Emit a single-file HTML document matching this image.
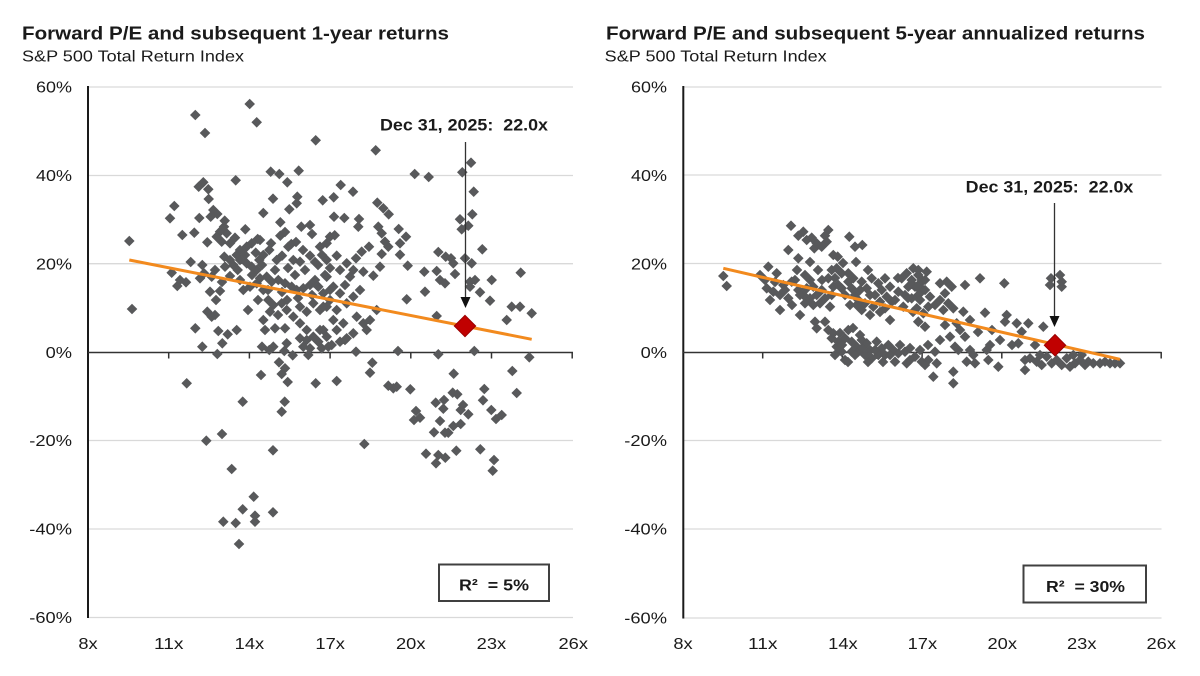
<!DOCTYPE html>
<html><head><meta charset="utf-8">
<style>
html,body{margin:0;padding:0;background:#fff;}
svg{display:block;}
text{font-family:"Liberation Sans",Arial,sans-serif;fill:#1a1a1a;}
.pre{white-space:pre;}
</style></head><body>
<svg width="1200" height="676" viewBox="0 0 1200 676" xmlns="http://www.w3.org/2000/svg">
<rect width="1200" height="676" fill="#fff"/>

<!-- ===== LEFT CHART ===== -->
<text x="22" y="39.5" font-size="18.5" font-weight="bold" textLength="427" lengthAdjust="spacingAndGlyphs">Forward P/E and subsequent 1-year returns</text>
<text x="22" y="61.5" font-size="16" textLength="222" lengthAdjust="spacingAndGlyphs">S&amp;P 500 Total Return Index</text>

<g stroke="#d9d9d9" stroke-width="1.3">
<line x1="88" y1="87" x2="573" y2="87"/>
<line x1="88" y1="175.5" x2="573" y2="175.5"/>
<line x1="88" y1="263.7" x2="573" y2="263.7"/>
<line x1="88" y1="440.5" x2="573" y2="440.5"/>
<line x1="88" y1="529" x2="573" y2="529"/>
<line x1="88" y1="617.5" x2="573" y2="617.5"/>
</g>
<line x1="88" y1="86" x2="88" y2="618" stroke="#1a1a1a" stroke-width="2"/>
<line x1="88" y1="352.5" x2="573" y2="352.5" stroke="#333" stroke-width="1.6"/>
<g stroke="#333" stroke-width="1.5">
<line x1="168.7" y1="352" x2="168.7" y2="358.5"/>
<line x1="249.4" y1="352" x2="249.4" y2="358.5"/>
<line x1="330.1" y1="352" x2="330.1" y2="358.5"/>
<line x1="410.8" y1="352" x2="410.8" y2="358.5"/>
<line x1="491.5" y1="352" x2="491.5" y2="358.5"/>
<line x1="572.2" y1="352" x2="572.2" y2="358.5"/>
</g>

<g font-size="16">
<text x="36" y="92.7" textLength="36" lengthAdjust="spacingAndGlyphs">60%</text>
<text x="36" y="181.2" textLength="36" lengthAdjust="spacingAndGlyphs">40%</text>
<text x="36" y="269.4" textLength="36" lengthAdjust="spacingAndGlyphs">20%</text>
<text x="45.6" y="358.2" textLength="26.4" lengthAdjust="spacingAndGlyphs">0%</text>
<text x="29.3" y="446.2" textLength="42.7" lengthAdjust="spacingAndGlyphs">-20%</text>
<text x="29.3" y="534.7" textLength="42.7" lengthAdjust="spacingAndGlyphs">-40%</text>
<text x="29.3" y="623.2" textLength="42.7" lengthAdjust="spacingAndGlyphs">-60%</text>

<text x="78.4" y="649" textLength="19.3" lengthAdjust="spacingAndGlyphs">8x</text>
<text x="154" y="649" textLength="29.5" lengthAdjust="spacingAndGlyphs">11x</text>
<text x="234.7" y="649" textLength="29.5" lengthAdjust="spacingAndGlyphs">14x</text>
<text x="315.4" y="649" textLength="29.5" lengthAdjust="spacingAndGlyphs">17x</text>
<text x="396" y="649" textLength="29.5" lengthAdjust="spacingAndGlyphs">20x</text>
<text x="476.7" y="649" textLength="29.5" lengthAdjust="spacingAndGlyphs">23x</text>
<text x="558.5" y="649" textLength="29.5" lengthAdjust="spacingAndGlyphs">26x</text>
</g>

<g fill="#58595b" stroke="#58595b" stroke-width="0.7">
<path d="M249.7 104m0-4.8l4.8 4.8-4.8 4.8-4.8-4.8zM195.3 115m0-4.8l4.8 4.8-4.8 4.8-4.8-4.8zM256.7 122.3m0-4.8l4.8 4.8-4.8 4.8-4.8-4.8zM205 133m0-4.8l4.8 4.8-4.8 4.8-4.8-4.8zM315.7 140.3m0-4.8l4.8 4.8-4.8 4.8-4.8-4.8zM270.7 171.7m0-4.8l4.8 4.8-4.8 4.8-4.8-4.8zM279.3 174m0-4.8l4.8 4.8-4.8 4.8-4.8-4.8zM298.7 170.7m0-4.8l4.8 4.8-4.8 4.8-4.8-4.8zM287.3 182.3m0-4.8l4.8 4.8-4.8 4.8-4.8-4.8zM235.7 180.3m0-4.8l4.8 4.8-4.8 4.8-4.8-4.8zM203.3 182.3m0-4.8l4.8 4.8-4.8 4.8-4.8-4.8zM198.7 186.7m0-4.8l4.8 4.8-4.8 4.8-4.8-4.8zM208.3 189.3m0-4.8l4.8 4.8-4.8 4.8-4.8-4.8zM208.7 199m0-4.8l4.8 4.8-4.8 4.8-4.8-4.8zM174.3 206m0-4.8l4.8 4.8-4.8 4.8-4.8-4.8zM170 218.3m0-4.8l4.8 4.8-4.8 4.8-4.8-4.8zM199.3 218m0-4.8l4.8 4.8-4.8 4.8-4.8-4.8zM213.3 210m0-4.8l4.8 4.8-4.8 4.8-4.8-4.8zM210.7 216.7m0-4.8l4.8 4.8-4.8 4.8-4.8-4.8zM217.3 214m0-4.8l4.8 4.8-4.8 4.8-4.8-4.8zM273 198.7m0-4.8l4.8 4.8-4.8 4.8-4.8-4.8zM297.3 196.7m0-4.8l4.8 4.8-4.8 4.8-4.8-4.8zM296.7 203.3m0-4.8l4.8 4.8-4.8 4.8-4.8-4.8zM289.3 209.3m0-4.8l4.8 4.8-4.8 4.8-4.8-4.8zM322.7 200.3m0-4.8l4.8 4.8-4.8 4.8-4.8-4.8zM263.3 213m0-4.8l4.8 4.8-4.8 4.8-4.8-4.8zM280.3 222.3m0-4.8l4.8 4.8-4.8 4.8-4.8-4.8zM224.7 220.7m0-4.8l4.8 4.8-4.8 4.8-4.8-4.8zM224 226.7m0-4.8l4.8 4.8-4.8 4.8-4.8-4.8zM220 231.7m0-4.8l4.8 4.8-4.8 4.8-4.8-4.8zM301.3 226.7m0-4.8l4.8 4.8-4.8 4.8-4.8-4.8zM310 225m0-4.8l4.8 4.8-4.8 4.8-4.8-4.8zM312 234m0-4.8l4.8 4.8-4.8 4.8-4.8-4.8zM182.3 235m0-4.8l4.8 4.8-4.8 4.8-4.8-4.8zM194.3 232.7m0-4.8l4.8 4.8-4.8 4.8-4.8-4.8zM129.3 241m0-4.8l4.8 4.8-4.8 4.8-4.8-4.8zM207.3 242.3m0-4.8l4.8 4.8-4.8 4.8-4.8-4.8zM216.7 236.7m0-4.8l4.8 4.8-4.8 4.8-4.8-4.8zM226.7 233.3m0-4.8l4.8 4.8-4.8 4.8-4.8-4.8zM235 237.7m0-4.8l4.8 4.8-4.8 4.8-4.8-4.8zM221.7 241.7m0-4.8l4.8 4.8-4.8 4.8-4.8-4.8zM230 243.3m0-4.8l4.8 4.8-4.8 4.8-4.8-4.8zM245.3 229.3m0-4.8l4.8 4.8-4.8 4.8-4.8-4.8zM280.3 235.7m0-4.8l4.8 4.8-4.8 4.8-4.8-4.8zM257.7 239m0-4.8l4.8 4.8-4.8 4.8-4.8-4.8zM251.7 243.3m0-4.8l4.8 4.8-4.8 4.8-4.8-4.8zM246.7 246.7m0-4.8l4.8 4.8-4.8 4.8-4.8-4.8zM240 250m0-4.8l4.8 4.8-4.8 4.8-4.8-4.8zM271 243.3m0-4.8l4.8 4.8-4.8 4.8-4.8-4.8zM269.3 250m0-4.8l4.8 4.8-4.8 4.8-4.8-4.8zM291.3 244m0-4.8l4.8 4.8-4.8 4.8-4.8-4.8zM288.3 246.7m0-4.8l4.8 4.8-4.8 4.8-4.8-4.8zM296 242m0-4.8l4.8 4.8-4.8 4.8-4.8-4.8zM320 246.7m0-4.8l4.8 4.8-4.8 4.8-4.8-4.8zM326.7 243.3m0-4.8l4.8 4.8-4.8 4.8-4.8-4.8zM330 236.7m0-4.8l4.8 4.8-4.8 4.8-4.8-4.8zM310 255.7m0-4.8l4.8 4.8-4.8 4.8-4.8-4.8zM255.7 252.7m0-4.8l4.8 4.8-4.8 4.8-4.8-4.8zM263.3 255m0-4.8l4.8 4.8-4.8 4.8-4.8-4.8zM259.3 260m0-4.8l4.8 4.8-4.8 4.8-4.8-4.8zM282 255.7m0-4.8l4.8 4.8-4.8 4.8-4.8-4.8zM276.7 260m0-4.8l4.8 4.8-4.8 4.8-4.8-4.8zM300 261.7m0-4.8l4.8 4.8-4.8 4.8-4.8-4.8zM293.3 260m0-4.8l4.8 4.8-4.8 4.8-4.8-4.8zM224.3 256.7m0-4.8l4.8 4.8-4.8 4.8-4.8-4.8zM230 260m0-4.8l4.8 4.8-4.8 4.8-4.8-4.8zM225 266.7m0-4.8l4.8 4.8-4.8 4.8-4.8-4.8zM236.7 255m0-4.8l4.8 4.8-4.8 4.8-4.8-4.8zM240 260m0-4.8l4.8 4.8-4.8 4.8-4.8-4.8zM233.3 265m0-4.8l4.8 4.8-4.8 4.8-4.8-4.8zM237.7 270m0-4.8l4.8 4.8-4.8 4.8-4.8-4.8zM190.7 262m0-4.8l4.8 4.8-4.8 4.8-4.8-4.8zM202.3 265m0-4.8l4.8 4.8-4.8 4.8-4.8-4.8zM215 270m0-4.8l4.8 4.8-4.8 4.8-4.8-4.8zM204 273.3m0-4.8l4.8 4.8-4.8 4.8-4.8-4.8zM171.7 272.7m0-4.8l4.8 4.8-4.8 4.8-4.8-4.8zM180 280m0-4.8l4.8 4.8-4.8 4.8-4.8-4.8zM186 282.3m0-4.8l4.8 4.8-4.8 4.8-4.8-4.8zM177.3 286m0-4.8l4.8 4.8-4.8 4.8-4.8-4.8zM200 278.3m0-4.8l4.8 4.8-4.8 4.8-4.8-4.8zM211.7 276.7m0-4.8l4.8 4.8-4.8 4.8-4.8-4.8zM246.7 263.3m0-4.8l4.8 4.8-4.8 4.8-4.8-4.8zM251.7 266.7m0-4.8l4.8 4.8-4.8 4.8-4.8-4.8zM256.7 270m0-4.8l4.8 4.8-4.8 4.8-4.8-4.8zM260 278.3m0-4.8l4.8 4.8-4.8 4.8-4.8-4.8zM266.7 276.7m0-4.8l4.8 4.8-4.8 4.8-4.8-4.8zM271.7 281.7m0-4.8l4.8 4.8-4.8 4.8-4.8-4.8zM278.3 280m0-4.8l4.8 4.8-4.8 4.8-4.8-4.8zM285 283.3m0-4.8l4.8 4.8-4.8 4.8-4.8-4.8zM291.7 286.7m0-4.8l4.8 4.8-4.8 4.8-4.8-4.8zM296.7 290m0-4.8l4.8 4.8-4.8 4.8-4.8-4.8zM303.3 288.3m0-4.8l4.8 4.8-4.8 4.8-4.8-4.8zM310 285m0-4.8l4.8 4.8-4.8 4.8-4.8-4.8zM315 280m0-4.8l4.8 4.8-4.8 4.8-4.8-4.8zM318.3 286.7m0-4.8l4.8 4.8-4.8 4.8-4.8-4.8zM323.3 293.3m0-4.8l4.8 4.8-4.8 4.8-4.8-4.8zM330 290m0-4.8l4.8 4.8-4.8 4.8-4.8-4.8zM243.3 290m0-4.8l4.8 4.8-4.8 4.8-4.8-4.8zM250 286.7m0-4.8l4.8 4.8-4.8 4.8-4.8-4.8zM256.7 283.3m0-4.8l4.8 4.8-4.8 4.8-4.8-4.8zM263.3 290m0-4.8l4.8 4.8-4.8 4.8-4.8-4.8zM210 291.7m0-4.8l4.8 4.8-4.8 4.8-4.8-4.8zM220 291m0-4.8l4.8 4.8-4.8 4.8-4.8-4.8zM132 309m0-4.8l4.8 4.8-4.8 4.8-4.8-4.8zM207.3 311.7m0-4.8l4.8 4.8-4.8 4.8-4.8-4.8zM211.7 316.7m0-4.8l4.8 4.8-4.8 4.8-4.8-4.8zM215 315m0-4.8l4.8 4.8-4.8 4.8-4.8-4.8zM268.3 300m0-4.8l4.8 4.8-4.8 4.8-4.8-4.8zM273.3 305m0-4.8l4.8 4.8-4.8 4.8-4.8-4.8zM270 311.7m0-4.8l4.8 4.8-4.8 4.8-4.8-4.8zM281.7 303.3m0-4.8l4.8 4.8-4.8 4.8-4.8-4.8zM286.7 310m0-4.8l4.8 4.8-4.8 4.8-4.8-4.8zM293.3 316.7m0-4.8l4.8 4.8-4.8 4.8-4.8-4.8zM300 306.7m0-4.8l4.8 4.8-4.8 4.8-4.8-4.8zM306.7 311.7m0-4.8l4.8 4.8-4.8 4.8-4.8-4.8zM313.3 303.3m0-4.8l4.8 4.8-4.8 4.8-4.8-4.8zM320 310m0-4.8l4.8 4.8-4.8 4.8-4.8-4.8zM326.7 306.7m0-4.8l4.8 4.8-4.8 4.8-4.8-4.8zM263.3 320m0-4.8l4.8 4.8-4.8 4.8-4.8-4.8zM275 328.3m0-4.8l4.8 4.8-4.8 4.8-4.8-4.8zM285 328.3m0-4.8l4.8 4.8-4.8 4.8-4.8-4.8zM265 330m0-4.8l4.8 4.8-4.8 4.8-4.8-4.8zM195.3 328.3m0-4.8l4.8 4.8-4.8 4.8-4.8-4.8zM218.3 331m0-4.8l4.8 4.8-4.8 4.8-4.8-4.8zM227.7 334.3m0-4.8l4.8 4.8-4.8 4.8-4.8-4.8zM236.7 330m0-4.8l4.8 4.8-4.8 4.8-4.8-4.8zM300 323.3m0-4.8l4.8 4.8-4.8 4.8-4.8-4.8zM306.7 330m0-4.8l4.8 4.8-4.8 4.8-4.8-4.8zM300 338.3m0-4.8l4.8 4.8-4.8 4.8-4.8-4.8zM313.3 336.7m0-4.8l4.8 4.8-4.8 4.8-4.8-4.8zM320 330m0-4.8l4.8 4.8-4.8 4.8-4.8-4.8zM326.7 336.7m0-4.8l4.8 4.8-4.8 4.8-4.8-4.8zM286.7 343.3m0-4.8l4.8 4.8-4.8 4.8-4.8-4.8zM273.3 346.7m0-4.8l4.8 4.8-4.8 4.8-4.8-4.8zM310 348.3m0-4.8l4.8 4.8-4.8 4.8-4.8-4.8zM321.7 348.3m0-4.8l4.8 4.8-4.8 4.8-4.8-4.8z"/>
<path d="M375.7 150.3m0-4.8l4.8 4.8-4.8 4.8-4.8-4.8zM414.7 174m0-4.8l4.8 4.8-4.8 4.8-4.8-4.8zM428.7 177m0-4.8l4.8 4.8-4.8 4.8-4.8-4.8zM462.3 172.3m0-4.8l4.8 4.8-4.8 4.8-4.8-4.8zM471 162.7m0-4.8l4.8 4.8-4.8 4.8-4.8-4.8zM473.7 191.7m0-4.8l4.8 4.8-4.8 4.8-4.8-4.8zM340.7 185m0-4.8l4.8 4.8-4.8 4.8-4.8-4.8zM353 191.7m0-4.8l4.8 4.8-4.8 4.8-4.8-4.8zM333.7 197.3m0-4.8l4.8 4.8-4.8 4.8-4.8-4.8zM377.3 202.7m0-4.8l4.8 4.8-4.8 4.8-4.8-4.8zM383.3 208.3m0-4.8l4.8 4.8-4.8 4.8-4.8-4.8zM388.7 214.3m0-4.8l4.8 4.8-4.8 4.8-4.8-4.8zM334 216.7m0-4.8l4.8 4.8-4.8 4.8-4.8-4.8zM344.3 218m0-4.8l4.8 4.8-4.8 4.8-4.8-4.8zM359 219m0-4.8l4.8 4.8-4.8 4.8-4.8-4.8zM358.3 226.7m0-4.8l4.8 4.8-4.8 4.8-4.8-4.8zM378.3 226.7m0-4.8l4.8 4.8-4.8 4.8-4.8-4.8zM381.7 233.3m0-4.8l4.8 4.8-4.8 4.8-4.8-4.8zM385 241.7m0-4.8l4.8 4.8-4.8 4.8-4.8-4.8zM388.3 246.7m0-4.8l4.8 4.8-4.8 4.8-4.8-4.8zM398.7 229m0-4.8l4.8 4.8-4.8 4.8-4.8-4.8zM406 236.7m0-4.8l4.8 4.8-4.8 4.8-4.8-4.8zM400 243.3m0-4.8l4.8 4.8-4.8 4.8-4.8-4.8zM334.7 235.3m0-4.8l4.8 4.8-4.8 4.8-4.8-4.8zM460 219.3m0-4.8l4.8 4.8-4.8 4.8-4.8-4.8zM468.3 225.7m0-4.8l4.8 4.8-4.8 4.8-4.8-4.8zM472.3 214.3m0-4.8l4.8 4.8-4.8 4.8-4.8-4.8zM461.7 229.3m0-4.8l4.8 4.8-4.8 4.8-4.8-4.8zM369 246.7m0-4.8l4.8 4.8-4.8 4.8-4.8-4.8zM361.7 251.7m0-4.8l4.8 4.8-4.8 4.8-4.8-4.8zM356 258.3m0-4.8l4.8 4.8-4.8 4.8-4.8-4.8zM346.7 263.3m0-4.8l4.8 4.8-4.8 4.8-4.8-4.8zM381.7 254m0-4.8l4.8 4.8-4.8 4.8-4.8-4.8zM400 254.7m0-4.8l4.8 4.8-4.8 4.8-4.8-4.8zM336.7 255.7m0-4.8l4.8 4.8-4.8 4.8-4.8-4.8zM326.7 260m0-4.8l4.8 4.8-4.8 4.8-4.8-4.8zM438.3 252m0-4.8l4.8 4.8-4.8 4.8-4.8-4.8zM445.7 256.7m0-4.8l4.8 4.8-4.8 4.8-4.8-4.8zM451 258.3m0-4.8l4.8 4.8-4.8 4.8-4.8-4.8zM453.3 263.3m0-4.8l4.8 4.8-4.8 4.8-4.8-4.8zM465 258.3m0-4.8l4.8 4.8-4.8 4.8-4.8-4.8zM471.7 263.3m0-4.8l4.8 4.8-4.8 4.8-4.8-4.8zM482.3 249.3m0-4.8l4.8 4.8-4.8 4.8-4.8-4.8zM407.7 265.7m0-4.8l4.8 4.8-4.8 4.8-4.8-4.8zM380 266.7m0-4.8l4.8 4.8-4.8 4.8-4.8-4.8zM373.3 275.7m0-4.8l4.8 4.8-4.8 4.8-4.8-4.8zM363.3 271.7m0-4.8l4.8 4.8-4.8 4.8-4.8-4.8zM353.3 270m0-4.8l4.8 4.8-4.8 4.8-4.8-4.8zM350 276.7m0-4.8l4.8 4.8-4.8 4.8-4.8-4.8zM424.3 271.7m0-4.8l4.8 4.8-4.8 4.8-4.8-4.8zM436.7 271m0-4.8l4.8 4.8-4.8 4.8-4.8-4.8zM440 280m0-4.8l4.8 4.8-4.8 4.8-4.8-4.8zM445 283.3m0-4.8l4.8 4.8-4.8 4.8-4.8-4.8zM455 274m0-4.8l4.8 4.8-4.8 4.8-4.8-4.8zM470 281.7m0-4.8l4.8 4.8-4.8 4.8-4.8-4.8zM475 280m0-4.8l4.8 4.8-4.8 4.8-4.8-4.8zM480 292.3m0-4.8l4.8 4.8-4.8 4.8-4.8-4.8zM470 286.7m0-4.8l4.8 4.8-4.8 4.8-4.8-4.8zM491.7 280m0-4.8l4.8 4.8-4.8 4.8-4.8-4.8zM520.7 272.7m0-4.8l4.8 4.8-4.8 4.8-4.8-4.8zM490 300.7m0-4.8l4.8 4.8-4.8 4.8-4.8-4.8zM425 291.7m0-4.8l4.8 4.8-4.8 4.8-4.8-4.8zM406.7 299.3m0-4.8l4.8 4.8-4.8 4.8-4.8-4.8zM511.7 306.7m0-4.8l4.8 4.8-4.8 4.8-4.8-4.8zM520 306.7m0-4.8l4.8 4.8-4.8 4.8-4.8-4.8zM531.7 313.3m0-4.8l4.8 4.8-4.8 4.8-4.8-4.8zM506.7 320m0-4.8l4.8 4.8-4.8 4.8-4.8-4.8zM436.7 316m0-4.8l4.8 4.8-4.8 4.8-4.8-4.8zM326.7 276.7m0-4.8l4.8 4.8-4.8 4.8-4.8-4.8zM333.3 286.7m0-4.8l4.8 4.8-4.8 4.8-4.8-4.8zM340 293.3m0-4.8l4.8 4.8-4.8 4.8-4.8-4.8zM330 300m0-4.8l4.8 4.8-4.8 4.8-4.8-4.8zM323.3 306.7m0-4.8l4.8 4.8-4.8 4.8-4.8-4.8zM336.7 310m0-4.8l4.8 4.8-4.8 4.8-4.8-4.8zM346.7 303.3m0-4.8l4.8 4.8-4.8 4.8-4.8-4.8zM353.3 296.7m0-4.8l4.8 4.8-4.8 4.8-4.8-4.8zM333.3 320m0-4.8l4.8 4.8-4.8 4.8-4.8-4.8zM343.3 323.3m0-4.8l4.8 4.8-4.8 4.8-4.8-4.8zM356.7 316.7m0-4.8l4.8 4.8-4.8 4.8-4.8-4.8zM363.3 323.3m0-4.8l4.8 4.8-4.8 4.8-4.8-4.8zM370 320m0-4.8l4.8 4.8-4.8 4.8-4.8-4.8zM376.7 310m0-4.8l4.8 4.8-4.8 4.8-4.8-4.8zM323.3 330m0-4.8l4.8 4.8-4.8 4.8-4.8-4.8zM336.7 330m0-4.8l4.8 4.8-4.8 4.8-4.8-4.8zM346.7 338.3m0-4.8l4.8 4.8-4.8 4.8-4.8-4.8zM353.3 333.3m0-4.8l4.8 4.8-4.8 4.8-4.8-4.8zM366.7 330m0-4.8l4.8 4.8-4.8 4.8-4.8-4.8z"/>
<path d="M202.3 346.7m0-4.8l4.8 4.8-4.8 4.8-4.8-4.8zM222.3 343.3m0-4.8l4.8 4.8-4.8 4.8-4.8-4.8zM217.3 354m0-4.8l4.8 4.8-4.8 4.8-4.8-4.8zM262 346.7m0-4.8l4.8 4.8-4.8 4.8-4.8-4.8zM269.3 350m0-4.8l4.8 4.8-4.8 4.8-4.8-4.8zM284.3 351m0-4.8l4.8 4.8-4.8 4.8-4.8-4.8zM292.7 355.3m0-4.8l4.8 4.8-4.8 4.8-4.8-4.8zM303.3 346.7m0-4.8l4.8 4.8-4.8 4.8-4.8-4.8zM306.7 340m0-4.8l4.8 4.8-4.8 4.8-4.8-4.8zM308.3 355m0-4.8l4.8 4.8-4.8 4.8-4.8-4.8zM318.3 341.7m0-4.8l4.8 4.8-4.8 4.8-4.8-4.8zM328.3 346.7m0-4.8l4.8 4.8-4.8 4.8-4.8-4.8zM279 362.3m0-4.8l4.8 4.8-4.8 4.8-4.8-4.8zM285 368.3m0-4.8l4.8 4.8-4.8 4.8-4.8-4.8zM281.7 374m0-4.8l4.8 4.8-4.8 4.8-4.8-4.8zM261 375m0-4.8l4.8 4.8-4.8 4.8-4.8-4.8zM186.7 383.3m0-4.8l4.8 4.8-4.8 4.8-4.8-4.8zM287.7 382m0-4.8l4.8 4.8-4.8 4.8-4.8-4.8zM315.7 383.3m0-4.8l4.8 4.8-4.8 4.8-4.8-4.8zM242.7 401.7m0-4.8l4.8 4.8-4.8 4.8-4.8-4.8zM284.7 401.7m0-4.8l4.8 4.8-4.8 4.8-4.8-4.8zM281.7 411.7m0-4.8l4.8 4.8-4.8 4.8-4.8-4.8zM222 434m0-4.8l4.8 4.8-4.8 4.8-4.8-4.8zM206.3 440.7m0-4.8l4.8 4.8-4.8 4.8-4.8-4.8zM273 450.3m0-4.8l4.8 4.8-4.8 4.8-4.8-4.8zM231.7 469m0-4.8l4.8 4.8-4.8 4.8-4.8-4.8zM253.7 496.7m0-4.8l4.8 4.8-4.8 4.8-4.8-4.8zM242.7 509.3m0-4.8l4.8 4.8-4.8 4.8-4.8-4.8zM273 512.3m0-4.8l4.8 4.8-4.8 4.8-4.8-4.8zM255 515.7m0-4.8l4.8 4.8-4.8 4.8-4.8-4.8zM255 521.7m0-4.8l4.8 4.8-4.8 4.8-4.8-4.8zM223.3 521.7m0-4.8l4.8 4.8-4.8 4.8-4.8-4.8zM235.7 523m0-4.8l4.8 4.8-4.8 4.8-4.8-4.8zM239 544m0-4.8l4.8 4.8-4.8 4.8-4.8-4.8z"/>
<path d="M331.7 345m0-4.8l4.8 4.8-4.8 4.8-4.8-4.8zM340 341.7m0-4.8l4.8 4.8-4.8 4.8-4.8-4.8zM345 340m0-4.8l4.8 4.8-4.8 4.8-4.8-4.8zM356 351.7m0-4.8l4.8 4.8-4.8 4.8-4.8-4.8zM398 351m0-4.8l4.8 4.8-4.8 4.8-4.8-4.8zM438.3 354.3m0-4.8l4.8 4.8-4.8 4.8-4.8-4.8zM474.3 351m0-4.8l4.8 4.8-4.8 4.8-4.8-4.8zM529.3 357.3m0-4.8l4.8 4.8-4.8 4.8-4.8-4.8zM372.3 362.7m0-4.8l4.8 4.8-4.8 4.8-4.8-4.8zM370 372.7m0-4.8l4.8 4.8-4.8 4.8-4.8-4.8zM336.7 381m0-4.8l4.8 4.8-4.8 4.8-4.8-4.8zM453.7 373.7m0-4.8l4.8 4.8-4.8 4.8-4.8-4.8zM512.3 371m0-4.8l4.8 4.8-4.8 4.8-4.8-4.8zM388.3 385.7m0-4.8l4.8 4.8-4.8 4.8-4.8-4.8zM393.3 388.3m0-4.8l4.8 4.8-4.8 4.8-4.8-4.8zM396.7 386.7m0-4.8l4.8 4.8-4.8 4.8-4.8-4.8zM410.3 389.3m0-4.8l4.8 4.8-4.8 4.8-4.8-4.8zM484.3 389m0-4.8l4.8 4.8-4.8 4.8-4.8-4.8zM516.7 393m0-4.8l4.8 4.8-4.8 4.8-4.8-4.8zM452.7 392.7m0-4.8l4.8 4.8-4.8 4.8-4.8-4.8zM457.3 394.3m0-4.8l4.8 4.8-4.8 4.8-4.8-4.8zM435.7 402.7m0-4.8l4.8 4.8-4.8 4.8-4.8-4.8zM444 400m0-4.8l4.8 4.8-4.8 4.8-4.8-4.8zM443.3 408.7m0-4.8l4.8 4.8-4.8 4.8-4.8-4.8zM463 405m0-4.8l4.8 4.8-4.8 4.8-4.8-4.8zM460.7 410m0-4.8l4.8 4.8-4.8 4.8-4.8-4.8zM483 400.3m0-4.8l4.8 4.8-4.8 4.8-4.8-4.8zM416 411m0-4.8l4.8 4.8-4.8 4.8-4.8-4.8zM420 417.7m0-4.8l4.8 4.8-4.8 4.8-4.8-4.8zM414 420m0-4.8l4.8 4.8-4.8 4.8-4.8-4.8zM468.3 414.3m0-4.8l4.8 4.8-4.8 4.8-4.8-4.8zM491.3 410m0-4.8l4.8 4.8-4.8 4.8-4.8-4.8zM501.7 415m0-4.8l4.8 4.8-4.8 4.8-4.8-4.8zM496 419m0-4.8l4.8 4.8-4.8 4.8-4.8-4.8zM440 421m0-4.8l4.8 4.8-4.8 4.8-4.8-4.8zM460.7 424m0-4.8l4.8 4.8-4.8 4.8-4.8-4.8zM453.3 426m0-4.8l4.8 4.8-4.8 4.8-4.8-4.8zM434 432.3m0-4.8l4.8 4.8-4.8 4.8-4.8-4.8zM445 432.7m0-4.8l4.8 4.8-4.8 4.8-4.8-4.8zM448.3 432.7m0-4.8l4.8 4.8-4.8 4.8-4.8-4.8zM364.3 444m0-4.8l4.8 4.8-4.8 4.8-4.8-4.8zM426 453.7m0-4.8l4.8 4.8-4.8 4.8-4.8-4.8zM438.3 455m0-4.8l4.8 4.8-4.8 4.8-4.8-4.8zM436 463.3m0-4.8l4.8 4.8-4.8 4.8-4.8-4.8zM445.3 457.7m0-4.8l4.8 4.8-4.8 4.8-4.8-4.8zM456.3 450.7m0-4.8l4.8 4.8-4.8 4.8-4.8-4.8zM480.3 449.3m0-4.8l4.8 4.8-4.8 4.8-4.8-4.8zM494 460m0-4.8l4.8 4.8-4.8 4.8-4.8-4.8zM492.7 470.7m0-4.8l4.8 4.8-4.8 4.8-4.8-4.8z"/>
<path d="M245 255m0-4.8l4.8 4.8-4.8 4.8-4.8-4.8zM252 275m0-4.8l4.8 4.8-4.8 4.8-4.8-4.8zM262 265m0-4.8l4.8 4.8-4.8 4.8-4.8-4.8zM268 290m0-4.8l4.8 4.8-4.8 4.8-4.8-4.8zM275 270m0-4.8l4.8 4.8-4.8 4.8-4.8-4.8zM282 292m0-4.8l4.8 4.8-4.8 4.8-4.8-4.8zM288 268m0-4.8l4.8 4.8-4.8 4.8-4.8-4.8zM295 275m0-4.8l4.8 4.8-4.8 4.8-4.8-4.8zM305 270m0-4.8l4.8 4.8-4.8 4.8-4.8-4.8zM312 295m0-4.8l4.8 4.8-4.8 4.8-4.8-4.8zM318 265m0-4.8l4.8 4.8-4.8 4.8-4.8-4.8zM325 275m0-4.8l4.8 4.8-4.8 4.8-4.8-4.8zM298 298m0-4.8l4.8 4.8-4.8 4.8-4.8-4.8zM287 300m0-4.8l4.8 4.8-4.8 4.8-4.8-4.8zM278 315m0-4.8l4.8 4.8-4.8 4.8-4.8-4.8zM258 300m0-4.8l4.8 4.8-4.8 4.8-4.8-4.8zM248 310m0-4.8l4.8 4.8-4.8 4.8-4.8-4.8zM240 280m0-4.8l4.8 4.8-4.8 4.8-4.8-4.8zM230 276m0-4.8l4.8 4.8-4.8 4.8-4.8-4.8zM222 282m0-4.8l4.8 4.8-4.8 4.8-4.8-4.8zM216 300m0-4.8l4.8 4.8-4.8 4.8-4.8-4.8zM260 240m0-4.8l4.8 4.8-4.8 4.8-4.8-4.8zM285 232m0-4.8l4.8 4.8-4.8 4.8-4.8-4.8zM303 250m0-4.8l4.8 4.8-4.8 4.8-4.8-4.8zM315 262m0-4.8l4.8 4.8-4.8 4.8-4.8-4.8zM330 268m0-4.8l4.8 4.8-4.8 4.8-4.8-4.8zM322 255m0-4.8l4.8 4.8-4.8 4.8-4.8-4.8zM340 270m0-4.8l4.8 4.8-4.8 4.8-4.8-4.8zM345 285m0-4.8l4.8 4.8-4.8 4.8-4.8-4.8zM360 290m0-4.8l4.8 4.8-4.8 4.8-4.8-4.8z"/>
</g>

<line x1="129.3" y1="260" x2="531.7" y2="339.3" stroke="#f28a1e" stroke-width="3"/>
<path d="M465 315.3l10.7 10.7-10.7 10.7-10.7-10.7z" fill="#c00000" stroke="#9a0000" stroke-width="1"/>
<line x1="465.5" y1="142" x2="465.5" y2="298" stroke="#333" stroke-width="1.3"/>
<polygon points="460.5,297 470.5,297 465.5,308" fill="#111"/>
<text x="380" y="130.5" font-size="17" font-weight="bold" class="pre" textLength="168" lengthAdjust="spacingAndGlyphs">Dec 31, 2025:  22.0x</text>

<rect x="439" y="564.5" width="110" height="36.5" fill="#fff" stroke="#404040" stroke-width="2"/>
<text x="459" y="590.5" font-size="16" font-weight="bold" class="pre" textLength="70" lengthAdjust="spacingAndGlyphs">R²  = 5%</text>

<!-- ===== RIGHT CHART ===== -->
<text x="606" y="39.5" font-size="18.5" font-weight="bold" textLength="539" lengthAdjust="spacingAndGlyphs">Forward P/E and subsequent 5-year annualized returns</text>
<text x="604.7" y="61.5" font-size="16" textLength="222" lengthAdjust="spacingAndGlyphs">S&amp;P 500 Total Return Index</text>

<g stroke="#d9d9d9" stroke-width="1.3">
<line x1="683" y1="87" x2="1161.5" y2="87"/>
<line x1="683" y1="175" x2="1161.5" y2="175"/>
<line x1="683" y1="263.5" x2="1161.5" y2="263.5"/>
<line x1="683" y1="440.5" x2="1161.5" y2="440.5"/>
<line x1="683" y1="529" x2="1161.5" y2="529"/>
<line x1="683" y1="618" x2="1161.5" y2="618"/>
</g>
<line x1="683.3" y1="86" x2="683.3" y2="618.5" stroke="#1a1a1a" stroke-width="2"/>
<line x1="683" y1="352.5" x2="1161.5" y2="352.5" stroke="#333" stroke-width="1.6"/>
<g stroke="#333" stroke-width="1.5">
<line x1="762.7" y1="352" x2="762.7" y2="358.5"/>
<line x1="842.4" y1="352" x2="842.4" y2="358.5"/>
<line x1="922.1" y1="352" x2="922.1" y2="358.5"/>
<line x1="1001.8" y1="352" x2="1001.8" y2="358.5"/>
<line x1="1081.5" y1="352" x2="1081.5" y2="358.5"/>
<line x1="1161.2" y1="352" x2="1161.2" y2="358.5"/>
</g>

<g font-size="16">
<text x="631" y="92.7" textLength="36" lengthAdjust="spacingAndGlyphs">60%</text>
<text x="631" y="181" textLength="36" lengthAdjust="spacingAndGlyphs">40%</text>
<text x="631" y="269.3" textLength="36" lengthAdjust="spacingAndGlyphs">20%</text>
<text x="640.6" y="358.2" textLength="26.4" lengthAdjust="spacingAndGlyphs">0%</text>
<text x="624.3" y="446.2" textLength="42.7" lengthAdjust="spacingAndGlyphs">-20%</text>
<text x="624.3" y="534.7" textLength="42.7" lengthAdjust="spacingAndGlyphs">-40%</text>
<text x="624.3" y="623.5" textLength="42.7" lengthAdjust="spacingAndGlyphs">-60%</text>

<text x="673.4" y="649" textLength="19.3" lengthAdjust="spacingAndGlyphs">8x</text>
<text x="748" y="649" textLength="29.5" lengthAdjust="spacingAndGlyphs">11x</text>
<text x="828.2" y="649" textLength="29.5" lengthAdjust="spacingAndGlyphs">14x</text>
<text x="907.6" y="649" textLength="29.5" lengthAdjust="spacingAndGlyphs">17x</text>
<text x="987.5" y="649" textLength="29.5" lengthAdjust="spacingAndGlyphs">20x</text>
<text x="1067" y="649" textLength="29.5" lengthAdjust="spacingAndGlyphs">23x</text>
<text x="1146.5" y="649" textLength="29.5" lengthAdjust="spacingAndGlyphs">26x</text>
</g>

<g fill="#58595b" stroke="#58595b" stroke-width="0.7">
<path d="M791 225.7m0-4.8l4.8 4.8-4.8 4.8-4.8-4.8zM803.3 231.7m0-4.8l4.8 4.8-4.8 4.8-4.8-4.8zM798.3 235.7m0-4.8l4.8 4.8-4.8 4.8-4.8-4.8zM806.7 240m0-4.8l4.8 4.8-4.8 4.8-4.8-4.8zM811.7 237.7m0-4.8l4.8 4.8-4.8 4.8-4.8-4.8zM816.7 243.3m0-4.8l4.8 4.8-4.8 4.8-4.8-4.8zM821.7 246.7m0-4.8l4.8 4.8-4.8 4.8-4.8-4.8zM826.7 241.7m0-4.8l4.8 4.8-4.8 4.8-4.8-4.8zM828.3 230m0-4.8l4.8 4.8-4.8 4.8-4.8-4.8zM825 235.7m0-4.8l4.8 4.8-4.8 4.8-4.8-4.8zM814.3 248.3m0-4.8l4.8 4.8-4.8 4.8-4.8-4.8zM849.3 236.7m0-4.8l4.8 4.8-4.8 4.8-4.8-4.8zM855 246.7m0-4.8l4.8 4.8-4.8 4.8-4.8-4.8zM862.3 245m0-4.8l4.8 4.8-4.8 4.8-4.8-4.8zM788.3 250m0-4.8l4.8 4.8-4.8 4.8-4.8-4.8zM798.3 258.3m0-4.8l4.8 4.8-4.8 4.8-4.8-4.8zM833.3 255m0-4.8l4.8 4.8-4.8 4.8-4.8-4.8zM837.7 256.7m0-4.8l4.8 4.8-4.8 4.8-4.8-4.8zM723.3 276m0-4.8l4.8 4.8-4.8 4.8-4.8-4.8zM726.7 286m0-4.8l4.8 4.8-4.8 4.8-4.8-4.8zM768.3 266.7m0-4.8l4.8 4.8-4.8 4.8-4.8-4.8zM776.7 273.3m0-4.8l4.8 4.8-4.8 4.8-4.8-4.8zM765 280m0-4.8l4.8 4.8-4.8 4.8-4.8-4.8zM766.7 288.3m0-4.8l4.8 4.8-4.8 4.8-4.8-4.8zM773.3 291.7m0-4.8l4.8 4.8-4.8 4.8-4.8-4.8zM783.3 285m0-4.8l4.8 4.8-4.8 4.8-4.8-4.8zM785 290m0-4.8l4.8 4.8-4.8 4.8-4.8-4.8zM791.7 281.7m0-4.8l4.8 4.8-4.8 4.8-4.8-4.8zM795 280m0-4.8l4.8 4.8-4.8 4.8-4.8-4.8zM798.3 290m0-4.8l4.8 4.8-4.8 4.8-4.8-4.8zM800 295m0-4.8l4.8 4.8-4.8 4.8-4.8-4.8zM788.3 298.3m0-4.8l4.8 4.8-4.8 4.8-4.8-4.8zM780 310m0-4.8l4.8 4.8-4.8 4.8-4.8-4.8zM800 315m0-4.8l4.8 4.8-4.8 4.8-4.8-4.8zM805 275m0-4.8l4.8 4.8-4.8 4.8-4.8-4.8zM810 280m0-4.8l4.8 4.8-4.8 4.8-4.8-4.8zM813.3 286.7m0-4.8l4.8 4.8-4.8 4.8-4.8-4.8zM806.7 288.3m0-4.8l4.8 4.8-4.8 4.8-4.8-4.8zM803.3 295m0-4.8l4.8 4.8-4.8 4.8-4.8-4.8zM810 298.3m0-4.8l4.8 4.8-4.8 4.8-4.8-4.8zM816.7 295m0-4.8l4.8 4.8-4.8 4.8-4.8-4.8zM820 303.3m0-4.8l4.8 4.8-4.8 4.8-4.8-4.8zM813.3 305m0-4.8l4.8 4.8-4.8 4.8-4.8-4.8zM805 303.3m0-4.8l4.8 4.8-4.8 4.8-4.8-4.8zM821.7 290m0-4.8l4.8 4.8-4.8 4.8-4.8-4.8zM825 298.3m0-4.8l4.8 4.8-4.8 4.8-4.8-4.8zM830 306.7m0-4.8l4.8 4.8-4.8 4.8-4.8-4.8zM831.7 295m0-4.8l4.8 4.8-4.8 4.8-4.8-4.8zM828.3 278.3m0-4.8l4.8 4.8-4.8 4.8-4.8-4.8zM831.7 270m0-4.8l4.8 4.8-4.8 4.8-4.8-4.8zM836.7 268.3m0-4.8l4.8 4.8-4.8 4.8-4.8-4.8zM841.7 273.3m0-4.8l4.8 4.8-4.8 4.8-4.8-4.8zM838.3 285m0-4.8l4.8 4.8-4.8 4.8-4.8-4.8zM841.7 288.3m0-4.8l4.8 4.8-4.8 4.8-4.8-4.8zM833.3 286.7m0-4.8l4.8 4.8-4.8 4.8-4.8-4.8zM848.3 281.7m0-4.8l4.8 4.8-4.8 4.8-4.8-4.8zM851.7 288.3m0-4.8l4.8 4.8-4.8 4.8-4.8-4.8zM855 295m0-4.8l4.8 4.8-4.8 4.8-4.8-4.8zM858.3 300m0-4.8l4.8 4.8-4.8 4.8-4.8-4.8zM856.7 305m0-4.8l4.8 4.8-4.8 4.8-4.8-4.8zM853.3 278.3m0-4.8l4.8 4.8-4.8 4.8-4.8-4.8zM848.3 273.3m0-4.8l4.8 4.8-4.8 4.8-4.8-4.8zM861.7 281.7m0-4.8l4.8 4.8-4.8 4.8-4.8-4.8zM866.7 288.3m0-4.8l4.8 4.8-4.8 4.8-4.8-4.8zM870 295m0-4.8l4.8 4.8-4.8 4.8-4.8-4.8zM865 303.3m0-4.8l4.8 4.8-4.8 4.8-4.8-4.8zM873.3 306.7m0-4.8l4.8 4.8-4.8 4.8-4.8-4.8zM870 315m0-4.8l4.8 4.8-4.8 4.8-4.8-4.8zM861.7 310m0-4.8l4.8 4.8-4.8 4.8-4.8-4.8zM871.7 278.3m0-4.8l4.8 4.8-4.8 4.8-4.8-4.8zM878.3 283.3m0-4.8l4.8 4.8-4.8 4.8-4.8-4.8zM885 278.3m0-4.8l4.8 4.8-4.8 4.8-4.8-4.8zM881.7 290m0-4.8l4.8 4.8-4.8 4.8-4.8-4.8zM886.7 296.7m0-4.8l4.8 4.8-4.8 4.8-4.8-4.8zM890 286.7m0-4.8l4.8 4.8-4.8 4.8-4.8-4.8zM891.7 301.7m0-4.8l4.8 4.8-4.8 4.8-4.8-4.8zM885 308.3m0-4.8l4.8 4.8-4.8 4.8-4.8-4.8zM880 301.7m0-4.8l4.8 4.8-4.8 4.8-4.8-4.8zM890 320m0-4.8l4.8 4.8-4.8 4.8-4.8-4.8zM898.3 291.7m0-4.8l4.8 4.8-4.8 4.8-4.8-4.8zM901.7 278.3m0-4.8l4.8 4.8-4.8 4.8-4.8-4.8zM906.7 273.3m0-4.8l4.8 4.8-4.8 4.8-4.8-4.8zM913.3 268.3m0-4.8l4.8 4.8-4.8 4.8-4.8-4.8zM911.7 280m0-4.8l4.8 4.8-4.8 4.8-4.8-4.8zM918.3 275m0-4.8l4.8 4.8-4.8 4.8-4.8-4.8zM921.7 281.7m0-4.8l4.8 4.8-4.8 4.8-4.8-4.8zM915 286.7m0-4.8l4.8 4.8-4.8 4.8-4.8-4.8zM908.3 286.7m0-4.8l4.8 4.8-4.8 4.8-4.8-4.8zM905 295m0-4.8l4.8 4.8-4.8 4.8-4.8-4.8zM903.3 306.7m0-4.8l4.8 4.8-4.8 4.8-4.8-4.8zM911.7 298.3m0-4.8l4.8 4.8-4.8 4.8-4.8-4.8zM918.3 295m0-4.8l4.8 4.8-4.8 4.8-4.8-4.8zM923.3 290m0-4.8l4.8 4.8-4.8 4.8-4.8-4.8zM916.7 308.3m0-4.8l4.8 4.8-4.8 4.8-4.8-4.8zM918.3 321.7m0-4.8l4.8 4.8-4.8 4.8-4.8-4.8z"/>
<path d="M815 321.7m0-4.8l4.8 4.8-4.8 4.8-4.8-4.8zM825 321.7m0-4.8l4.8 4.8-4.8 4.8-4.8-4.8zM816.7 328.3m0-4.8l4.8 4.8-4.8 4.8-4.8-4.8zM828.3 330m0-4.8l4.8 4.8-4.8 4.8-4.8-4.8zM833.3 333.3m0-4.8l4.8 4.8-4.8 4.8-4.8-4.8zM831.7 338.3m0-4.8l4.8 4.8-4.8 4.8-4.8-4.8zM838.3 341.7m0-4.8l4.8 4.8-4.8 4.8-4.8-4.8zM845 338.3m0-4.8l4.8 4.8-4.8 4.8-4.8-4.8zM848.3 330m0-4.8l4.8 4.8-4.8 4.8-4.8-4.8zM851.7 341.7m0-4.8l4.8 4.8-4.8 4.8-4.8-4.8zM856.7 346.7m0-4.8l4.8 4.8-4.8 4.8-4.8-4.8zM861.7 340m0-4.8l4.8 4.8-4.8 4.8-4.8-4.8zM866.7 343.3m0-4.8l4.8 4.8-4.8 4.8-4.8-4.8zM870 350m0-4.8l4.8 4.8-4.8 4.8-4.8-4.8zM865 355m0-4.8l4.8 4.8-4.8 4.8-4.8-4.8zM871.7 358.3m0-4.8l4.8 4.8-4.8 4.8-4.8-4.8zM876.7 341.7m0-4.8l4.8 4.8-4.8 4.8-4.8-4.8zM881.7 348.3m0-4.8l4.8 4.8-4.8 4.8-4.8-4.8zM885 355m0-4.8l4.8 4.8-4.8 4.8-4.8-4.8zM888.3 345m0-4.8l4.8 4.8-4.8 4.8-4.8-4.8zM893.3 350m0-4.8l4.8 4.8-4.8 4.8-4.8-4.8zM898.3 353.3m0-4.8l4.8 4.8-4.8 4.8-4.8-4.8zM905 351.7m0-4.8l4.8 4.8-4.8 4.8-4.8-4.8zM906.7 363.3m0-4.8l4.8 4.8-4.8 4.8-4.8-4.8zM895 361.7m0-4.8l4.8 4.8-4.8 4.8-4.8-4.8zM878.3 355m0-4.8l4.8 4.8-4.8 4.8-4.8-4.8zM858.3 351.7m0-4.8l4.8 4.8-4.8 4.8-4.8-4.8zM845 360m0-4.8l4.8 4.8-4.8 4.8-4.8-4.8zM851.7 351.7m0-4.8l4.8 4.8-4.8 4.8-4.8-4.8zM841.7 351.7m0-4.8l4.8 4.8-4.8 4.8-4.8-4.8zM836.7 346.7m0-4.8l4.8 4.8-4.8 4.8-4.8-4.8zM915 356.7m0-4.8l4.8 4.8-4.8 4.8-4.8-4.8zM921.7 361.7m0-4.8l4.8 4.8-4.8 4.8-4.8-4.8z"/>
<path d="M918.3 270m0-4.8l4.8 4.8-4.8 4.8-4.8-4.8zM926.7 271.7m0-4.8l4.8 4.8-4.8 4.8-4.8-4.8zM921.7 280m0-4.8l4.8 4.8-4.8 4.8-4.8-4.8zM916.7 286.7m0-4.8l4.8 4.8-4.8 4.8-4.8-4.8zM925 290m0-4.8l4.8 4.8-4.8 4.8-4.8-4.8zM930 296.7m0-4.8l4.8 4.8-4.8 4.8-4.8-4.8zM920 300m0-4.8l4.8 4.8-4.8 4.8-4.8-4.8zM928.3 306.7m0-4.8l4.8 4.8-4.8 4.8-4.8-4.8zM923.3 313.3m0-4.8l4.8 4.8-4.8 4.8-4.8-4.8zM918.3 321.7m0-4.8l4.8 4.8-4.8 4.8-4.8-4.8zM925 326.7m0-4.8l4.8 4.8-4.8 4.8-4.8-4.8zM940 283.3m0-4.8l4.8 4.8-4.8 4.8-4.8-4.8zM946.7 281.7m0-4.8l4.8 4.8-4.8 4.8-4.8-4.8zM951.7 286.7m0-4.8l4.8 4.8-4.8 4.8-4.8-4.8zM945 293.3m0-4.8l4.8 4.8-4.8 4.8-4.8-4.8zM940 300m0-4.8l4.8 4.8-4.8 4.8-4.8-4.8zM948.3 303.3m0-4.8l4.8 4.8-4.8 4.8-4.8-4.8zM943.3 310m0-4.8l4.8 4.8-4.8 4.8-4.8-4.8zM953.3 308.3m0-4.8l4.8 4.8-4.8 4.8-4.8-4.8zM963.3 311.7m0-4.8l4.8 4.8-4.8 4.8-4.8-4.8zM956.7 323.3m0-4.8l4.8 4.8-4.8 4.8-4.8-4.8zM960 330m0-4.8l4.8 4.8-4.8 4.8-4.8-4.8zM965 336.7m0-4.8l4.8 4.8-4.8 4.8-4.8-4.8zM950 336.7m0-4.8l4.8 4.8-4.8 4.8-4.8-4.8zM955 346.7m0-4.8l4.8 4.8-4.8 4.8-4.8-4.8zM958.3 350m0-4.8l4.8 4.8-4.8 4.8-4.8-4.8zM965 285m0-4.8l4.8 4.8-4.8 4.8-4.8-4.8zM980 278.3m0-4.8l4.8 4.8-4.8 4.8-4.8-4.8zM1004.3 283.3m0-4.8l4.8 4.8-4.8 4.8-4.8-4.8zM985 312.7m0-4.8l4.8 4.8-4.8 4.8-4.8-4.8zM1006.7 315m0-4.8l4.8 4.8-4.8 4.8-4.8-4.8zM1005 321.7m0-4.8l4.8 4.8-4.8 4.8-4.8-4.8zM1016.7 323.3m0-4.8l4.8 4.8-4.8 4.8-4.8-4.8zM1028.3 323.3m0-4.8l4.8 4.8-4.8 4.8-4.8-4.8zM1021.7 331.7m0-4.8l4.8 4.8-4.8 4.8-4.8-4.8zM1043.3 326.7m0-4.8l4.8 4.8-4.8 4.8-4.8-4.8zM1018.3 343.3m0-4.8l4.8 4.8-4.8 4.8-4.8-4.8zM1051 278.3m0-4.8l4.8 4.8-4.8 4.8-4.8-4.8zM1060 275m0-4.8l4.8 4.8-4.8 4.8-4.8-4.8zM1061.7 281.7m0-4.8l4.8 4.8-4.8 4.8-4.8-4.8zM1061.7 286.7m0-4.8l4.8 4.8-4.8 4.8-4.8-4.8zM1050 285m0-4.8l4.8 4.8-4.8 4.8-4.8-4.8zM935 351.7m0-4.8l4.8 4.8-4.8 4.8-4.8-4.8zM928.3 360m0-4.8l4.8 4.8-4.8 4.8-4.8-4.8zM936.7 363.3m0-4.8l4.8 4.8-4.8 4.8-4.8-4.8zM933.3 376.7m0-4.8l4.8 4.8-4.8 4.8-4.8-4.8zM953.3 371.7m0-4.8l4.8 4.8-4.8 4.8-4.8-4.8zM953.3 383.3m0-4.8l4.8 4.8-4.8 4.8-4.8-4.8zM970 350m0-4.8l4.8 4.8-4.8 4.8-4.8-4.8zM973.3 355m0-4.8l4.8 4.8-4.8 4.8-4.8-4.8zM966.7 361.7m0-4.8l4.8 4.8-4.8 4.8-4.8-4.8zM975 363.3m0-4.8l4.8 4.8-4.8 4.8-4.8-4.8zM986.7 350m0-4.8l4.8 4.8-4.8 4.8-4.8-4.8zM998.3 366.7m0-4.8l4.8 4.8-4.8 4.8-4.8-4.8zM988.3 360m0-4.8l4.8 4.8-4.8 4.8-4.8-4.8zM1025 360m0-4.8l4.8 4.8-4.8 4.8-4.8-4.8zM1030 358.3m0-4.8l4.8 4.8-4.8 4.8-4.8-4.8zM1036.7 361.7m0-4.8l4.8 4.8-4.8 4.8-4.8-4.8zM1025 370m0-4.8l4.8 4.8-4.8 4.8-4.8-4.8zM1041.7 365m0-4.8l4.8 4.8-4.8 4.8-4.8-4.8zM1046.7 356.7m0-4.8l4.8 4.8-4.8 4.8-4.8-4.8zM1051.7 363.3m0-4.8l4.8 4.8-4.8 4.8-4.8-4.8zM1056.7 360m0-4.8l4.8 4.8-4.8 4.8-4.8-4.8zM1061.7 365m0-4.8l4.8 4.8-4.8 4.8-4.8-4.8zM1066.7 358.3m0-4.8l4.8 4.8-4.8 4.8-4.8-4.8zM1070 366.7m0-4.8l4.8 4.8-4.8 4.8-4.8-4.8zM1075 363.3m0-4.8l4.8 4.8-4.8 4.8-4.8-4.8zM1080 360m0-4.8l4.8 4.8-4.8 4.8-4.8-4.8zM1085 365m0-4.8l4.8 4.8-4.8 4.8-4.8-4.8zM1088.3 361.7m0-4.8l4.8 4.8-4.8 4.8-4.8-4.8zM1093.3 363.3m0-4.8l4.8 4.8-4.8 4.8-4.8-4.8zM1100 363.3m0-4.8l4.8 4.8-4.8 4.8-4.8-4.8zM1105 361.7m0-4.8l4.8 4.8-4.8 4.8-4.8-4.8zM1110 363.3m0-4.8l4.8 4.8-4.8 4.8-4.8-4.8zM1115 363.3m0-4.8l4.8 4.8-4.8 4.8-4.8-4.8zM1120 363.3m0-4.8l4.8 4.8-4.8 4.8-4.8-4.8zM1073.3 355m0-4.8l4.8 4.8-4.8 4.8-4.8-4.8zM1081.7 355m0-4.8l4.8 4.8-4.8 4.8-4.8-4.8z"/>
<path d="M775 282m0-4.8l4.8 4.8-4.8 4.8-4.8-4.8zM780 295m0-4.8l4.8 4.8-4.8 4.8-4.8-4.8zM792 305m0-4.8l4.8 4.8-4.8 4.8-4.8-4.8zM797 270m0-4.8l4.8 4.8-4.8 4.8-4.8-4.8zM818 270m0-4.8l4.8 4.8-4.8 4.8-4.8-4.8zM822 280m0-4.8l4.8 4.8-4.8 4.8-4.8-4.8zM835 278m0-4.8l4.8 4.8-4.8 4.8-4.8-4.8zM845 295m0-4.8l4.8 4.8-4.8 4.8-4.8-4.8zM850 305m0-4.8l4.8 4.8-4.8 4.8-4.8-4.8zM860 290m0-4.8l4.8 4.8-4.8 4.8-4.8-4.8zM868 270m0-4.8l4.8 4.8-4.8 4.8-4.8-4.8zM875 295m0-4.8l4.8 4.8-4.8 4.8-4.8-4.8zM880 312m0-4.8l4.8 4.8-4.8 4.8-4.8-4.8zM895 300m0-4.8l4.8 4.8-4.8 4.8-4.8-4.8zM898 278m0-4.8l4.8 4.8-4.8 4.8-4.8-4.8zM908 298m0-4.8l4.8 4.8-4.8 4.8-4.8-4.8zM913 312m0-4.8l4.8 4.8-4.8 4.8-4.8-4.8zM925 280m0-4.8l4.8 4.8-4.8 4.8-4.8-4.8zM935 305m0-4.8l4.8 4.8-4.8 4.8-4.8-4.8zM760 275m0-4.8l4.8 4.8-4.8 4.8-4.8-4.8zM770 300m0-4.8l4.8 4.8-4.8 4.8-4.8-4.8zM810 262m0-4.8l4.8 4.8-4.8 4.8-4.8-4.8zM843 263m0-4.8l4.8 4.8-4.8 4.8-4.8-4.8zM856 262m0-4.8l4.8 4.8-4.8 4.8-4.8-4.8zM835 355m0-4.8l4.8 4.8-4.8 4.8-4.8-4.8zM842 345m0-4.8l4.8 4.8-4.8 4.8-4.8-4.8zM848 362m0-4.8l4.8 4.8-4.8 4.8-4.8-4.8zM855 355m0-4.8l4.8 4.8-4.8 4.8-4.8-4.8zM862 348m0-4.8l4.8 4.8-4.8 4.8-4.8-4.8zM868 362m0-4.8l4.8 4.8-4.8 4.8-4.8-4.8zM875 350m0-4.8l4.8 4.8-4.8 4.8-4.8-4.8zM883 362m0-4.8l4.8 4.8-4.8 4.8-4.8-4.8zM890 355m0-4.8l4.8 4.8-4.8 4.8-4.8-4.8zM900 345m0-4.8l4.8 4.8-4.8 4.8-4.8-4.8zM910 360m0-4.8l4.8 4.8-4.8 4.8-4.8-4.8zM920 350m0-4.8l4.8 4.8-4.8 4.8-4.8-4.8zM928 345m0-4.8l4.8 4.8-4.8 4.8-4.8-4.8zM860 335m0-4.8l4.8 4.8-4.8 4.8-4.8-4.8zM853 328m0-4.8l4.8 4.8-4.8 4.8-4.8-4.8zM840 333m0-4.8l4.8 4.8-4.8 4.8-4.8-4.8zM925 365m0-4.8l4.8 4.8-4.8 4.8-4.8-4.8zM910 348m0-4.8l4.8 4.8-4.8 4.8-4.8-4.8zM970 320m0-4.8l4.8 4.8-4.8 4.8-4.8-4.8zM978 332m0-4.8l4.8 4.8-4.8 4.8-4.8-4.8zM992 330m0-4.8l4.8 4.8-4.8 4.8-4.8-4.8zM1000 340m0-4.8l4.8 4.8-4.8 4.8-4.8-4.8zM1012 345m0-4.8l4.8 4.8-4.8 4.8-4.8-4.8zM1035 345m0-4.8l4.8 4.8-4.8 4.8-4.8-4.8zM1040 355m0-4.8l4.8 4.8-4.8 4.8-4.8-4.8zM945 325m0-4.8l4.8 4.8-4.8 4.8-4.8-4.8zM940 340m0-4.8l4.8 4.8-4.8 4.8-4.8-4.8zM990 345m0-4.8l4.8 4.8-4.8 4.8-4.8-4.8z"/>
</g>

<line x1="723.3" y1="268.3" x2="1120" y2="359.3" stroke="#f28a1e" stroke-width="3"/>
<path d="M1055 334.5l10.7 10.7-10.7 10.7-10.7-10.7z" fill="#c00000" stroke="#9a0000" stroke-width="1"/>
<line x1="1054.5" y1="203" x2="1054.5" y2="317" stroke="#333" stroke-width="1.3"/>
<polygon points="1049.5,316 1059.5,316 1054.5,327" fill="#111"/>
<text x="965.7" y="192.3" font-size="17" font-weight="bold" class="pre" textLength="167.6" lengthAdjust="spacingAndGlyphs">Dec 31, 2025:  22.0x</text>

<rect x="1023.5" y="565.5" width="122.5" height="37" fill="#fff" stroke="#404040" stroke-width="2"/>
<text x="1046" y="592" font-size="16" font-weight="bold" class="pre" textLength="79" lengthAdjust="spacingAndGlyphs">R²  = 30%</text>
</svg>
</body></html>
